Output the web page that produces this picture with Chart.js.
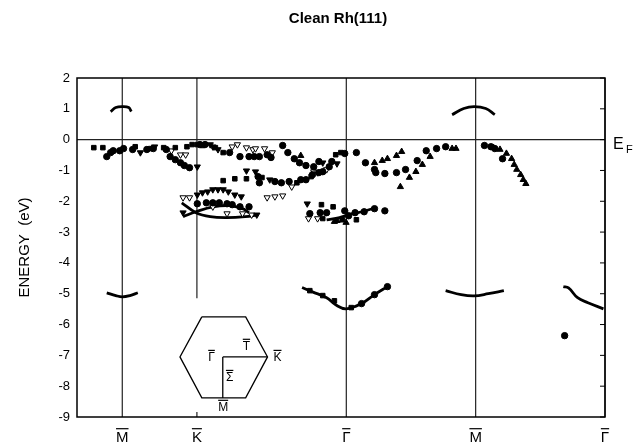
<!DOCTYPE html>
<html>
<head>
<meta charset="utf-8">
<title>Clean Rh(111)</title>
<script src="https://cdn.jsdelivr.net/npm/chart.js@4.4.1/dist/chart.umd.min.js"></script>
<style>
  html, body { margin: 0; padding: 0; background: #fff; }
  #wrap { width: 641px; height: 446px; }
</style>
</head>
<body>
<div id="wrap"><canvas id="chart" width="641" height="446"></canvas></div>
<script>
// k along the path, in units of |Gamma-M| (M = 0 on the left)
const symPoints = [
  { label: "M", k: 0 },
  { label: "K", k: 0.577 },
  { label: "Γ", k: 1.732 },
  { label: "M", k: 2.732 },
  { label: "Γ", k: 3.732 }
];
const energyTicks = [2, 1, 0, -1, -2, -3, -4, -5, -6, -7, -8, -9];

// measured points [k, E(eV)]
const squares = [
  [-0.22, -0.26], [-0.15, -0.26], [0.10, -0.23], [0.22, -0.29], [0.32, -0.26], [0.41, -0.26],
  [0.50, -0.23], [0.54, -0.16], [0.58, -0.16], [0.62, -0.19], [0.72, -0.26], [0.78, -0.42],
  [0.78, -1.33], [0.87, -1.27], [0.96, -1.27], [1.08, -1.23], [1.35, -1.40], [1.46, -1.20],
  [1.65, -0.49], [1.69, -0.42],
  [1.54, -2.11], [1.63, -2.18], [1.55, -2.56], [1.70, -2.60], [1.81, -2.60],
  [1.45, -4.90], [1.55, -5.06], [1.64, -5.23], [1.77, -5.45]
];
const circles = [
  [-0.12, -0.55], [-0.09, -0.42], [-0.07, -0.36], [-0.02, -0.36], [0.01, -0.29], [0.08, -0.32],
  [0.19, -0.32], [0.24, -0.29], [0.34, -0.32], [0.37, -0.55], [0.41, -0.65], [0.45, -0.75],
  [0.48, -0.84], [0.52, -0.91], [0.60, -0.16], [0.64, -0.16], [0.83, -0.42], [0.91, -0.55],
  [0.98, -0.55], [1.02, -0.55], [1.06, -0.55], [1.12, -0.49], [1.15, -0.58], [1.24, -0.19],
  [1.28, -0.42], [1.33, -0.62], [1.37, -0.75], [1.42, -0.84], [1.48, -0.88], [1.52, -0.71],
  [1.62, -0.71], [1.72, -0.45], [1.81, -0.42],
  [1.05, -1.20], [1.06, -1.40], [1.18, -1.36], [1.23, -1.40], [1.29, -1.36], [1.38, -1.30],
  [1.42, -1.30], [1.47, -1.14], [1.52, -1.07], [1.55, -1.04], [1.60, -0.88],
  [0.58, -2.08], [0.65, -2.05], [0.70, -2.05], [0.75, -2.05], [0.81, -2.08], [0.85, -2.11],
  [0.91, -2.18], [0.98, -2.18],
  [1.45, -2.40], [1.53, -2.37], [1.58, -2.37], [1.72, -2.31], [1.75, -2.47], [1.80, -2.37],
  [1.87, -2.34], [1.95, -2.24], [2.03, -2.31],
  [1.88, -0.75], [1.95, -0.97], [1.96, -1.07], [2.03, -1.10], [2.12, -1.07], [2.19, -0.97],
  [2.28, -0.68], [2.35, -0.36], [2.43, -0.29], [2.50, -0.23],
  [2.80, -0.19], [2.85, -0.23], [2.88, -0.29], [2.94, -0.62],
  [1.85, -5.32], [1.95, -5.03], [2.05, -4.77],
  [3.42, -6.36]
];
const downTriangles = [
  [0.14, -0.42], [0.25, -0.23], [0.58, -0.88], [0.68, -0.16], [0.70, -0.23], [0.74, -0.32],
  [0.96, -1.01], [1.03, -1.04], [1.14, -1.30], [1.55, -0.75], [1.66, -0.78], [1.43, -2.08],
  [0.58, -1.79], [0.62, -1.72], [0.66, -1.69], [0.70, -1.62], [0.74, -1.62], [0.78, -1.62],
  [0.82, -1.69], [0.87, -1.79], [0.92, -1.85],
  [0.47, -2.37], [1.04, -2.44]
];
const openTriangles = [
  [0.38, -0.36], [0.45, -0.49], [0.49, -0.49], [0.85, -0.23], [0.89, -0.16], [0.96, -0.26],
  [1.01, -0.32], [1.03, -0.29], [1.10, -0.29], [1.16, -0.42],
  [1.48, -1.04], [1.51, -1.07], [1.58, -0.97], [1.31, -1.53],
  [1.12, -1.88], [1.18, -1.85], [1.24, -1.82],
  [0.47, -1.88], [0.52, -1.88], [0.70, -2.18], [0.81, -2.40], [0.93, -2.40], [1.00, -2.44],
  [1.44, -2.56], [1.51, -2.56]
];
const upTriangles = [
  [1.38, -0.52], [1.64, -2.66], [1.66, -2.63], [1.73, -2.69],
  [1.95, -0.75], [2.01, -0.68], [2.05, -0.62], [2.12, -0.52], [2.16, -0.39],
  [2.15, -1.53], [2.22, -1.23], [2.27, -1.04], [2.32, -0.81], [2.38, -0.55], [2.55, -0.29], [2.58, -0.29],
  [2.87, -0.26], [2.92, -0.32], [2.97, -0.45], [3.01, -0.62], [3.03, -0.81], [3.05, -0.97],
  [3.08, -1.14], [3.10, -1.30], [3.12, -1.43]
];

// calculated bands (solid curves)
const bands = [
  [[-0.09, 0.91], [-0.05, 1.04], [0, 1.07], [0.05, 1.04], [0.07, 0.91]],
  [[2.55, 0.81], [2.64, 1.01], [2.72, 1.07], [2.81, 1.01], [2.88, 0.81]],
  [[-0.12, -4.97], [-0.05, -5.06], [0, -5.10], [0.06, -5.06], [0.12, -4.97]],
  [[2.50, -4.90], [2.62, -5.03], [2.72, -5.07], [2.83, -5.00], [2.95, -4.90]],
  [[1.39, -4.80], [1.47, -4.94], [1.58, -5.13], [1.65, -5.36], [1.73, -5.49], [1.85, -5.32], [1.95, -5.03], [2.05, -4.77]],
  [[3.41, -4.77], [3.45, -4.81], [3.52, -5.13], [3.60, -5.29], [3.72, -5.49]],
  [[0.46, -2.05], [0.57, -2.37], [0.68, -2.50], [0.81, -2.53], [0.95, -2.50], [1.05, -2.44]],
  [[0.47, -2.50], [0.57, -2.34], [0.70, -2.18], [0.83, -2.14], [0.93, -2.24], [0.98, -2.37]],
  [[1.58, -2.60], [1.68, -2.53], [1.75, -2.44], [1.85, -2.34], [1.96, -2.21]]
];

// surface Brillouin zone inset
const bzHexagon = [[0.615, -5.75], [0.954, -5.75], [1.123, -7.05], [0.954, -8.38], [0.615, -8.38], [0.446, -7.05], [0.615, -5.75]];
const bzPaths = [[[0.777, -7.05], [1.123, -7.05]], [[0.777, -7.05], [0.777, -8.38]]];
const bzLabels = [
  { text: "Γ", k: 0.69, e: -7.08 },
  { text: "T", k: 0.96, e: -6.72 },
  { text: "K", k: 1.20, e: -7.08 },
  { text: "Σ", k: 0.83, e: -7.73 },
  { text: "M", k: 0.78, e: -8.70 }
];

const FONT = "'Liberation Sans', Arial, Helvetica, sans-serif";
Chart.defaults.font.family = FONT;
Chart.defaults.color = "#000";

const toXY = arr => arr.map(p => ({ x: p[0], y: p[1] }));

function pointSet(data, style, opts) {
  return Object.assign({
    data: toXY(data),
    showLine: false,
    pointStyle: style,
    pointRadius: 3,
    pointBackgroundColor: "#000",
    pointBorderColor: "#000",
    pointBorderWidth: 1
  }, opts || {});
}

function lineSet(data, width, tension) {
  return {
    data: toXY(data),
    showLine: true,
    borderColor: "#000",
    borderWidth: width,
    pointRadius: 0,
    tension: tension,
    fill: false
  };
}

const datasets = [
  pointSet(squares, "rect", { pointRadius: 3.2 }),
  pointSet(circles, "circle", { pointRadius: 3.2 }),
  pointSet(downTriangles, "triangle", { rotation: 180, pointRadius: 3.6 }),
  pointSet(openTriangles, "triangle", { rotation: 180, pointRadius: 3.6, pointBackgroundColor: "#fff" }),
  pointSet(upTriangles, "triangle", { pointRadius: 3.6 })
];
bands.forEach(b => datasets.push(lineSet(b, 2.8, 0.4)));
datasets.push(lineSet(bzHexagon, 1.3, 0));
bzPaths.forEach(p => datasets.push(lineSet(p, 1.3, 0)));

function barLabel(ctx, text, x, y, size) {
  ctx.font = size + "px " + FONT;
  ctx.textAlign = "center";
  ctx.textBaseline = "middle";
  ctx.fillText(text, x, y);
  const w = ctx.measureText(text).width;
  ctx.lineWidth = 1.2;
  ctx.beginPath();
  ctx.moveTo(x - w / 2, y - size * 0.62);
  ctx.lineTo(x + w / 2, y - size * 0.62);
  ctx.stroke();
}

const decor = {
  id: "decor",
  beforeDatasetsDraw(chart) {
    const { ctx, chartArea: a, scales: { x, y } } = chart;
    ctx.save();
    ctx.strokeStyle = "#222";
    ctx.lineWidth = 1.2;
    // Fermi level
    const y0 = y.getPixelForValue(0);
    ctx.beginPath();
    ctx.moveTo(a.left, y0);
    ctx.lineTo(a.right, y0);
    ctx.stroke();
    // symmetry point verticals
    symPoints.forEach((s, i) => {
      const px = x.getPixelForValue(s.k);
      ctx.beginPath();
      if (i === 1) {
        ctx.moveTo(px, a.top);
        ctx.lineTo(px, y.getPixelForValue(-5.15));
        ctx.moveTo(px, a.bottom);
        ctx.lineTo(px, a.bottom - 5);
      } else {
        ctx.moveTo(px, a.top);
        ctx.lineTo(px, a.bottom);
      }
      ctx.stroke();
    });
    ctx.restore();
  },
  afterDraw(chart) {
    const { ctx, chartArea: a, scales: { x, y } } = chart;
    ctx.save();
    ctx.strokeStyle = "#000";
    ctx.fillStyle = "#000";
    ctx.lineWidth = 1.5;
    ctx.strokeRect(a.left, a.top, a.right - a.left, a.bottom - a.top);
    // inward ticks on right side
    ctx.lineWidth = 1;
    energyTicks.forEach(v => {
      const py = y.getPixelForValue(v);
      ctx.beginPath();
      ctx.moveTo(a.right, py);
      ctx.lineTo(a.right - 5, py);
      ctx.stroke();
    });
    // title
    ctx.font = "bold 15px " + FONT;
    ctx.textAlign = "center";
    ctx.textBaseline = "middle";
    ctx.fillText("Clean Rh(111)", 338, 19);
    // y axis title
    ctx.save();
    ctx.translate(25, (a.top + a.bottom) / 2);
    ctx.rotate(-Math.PI / 2);
    ctx.font = "15px " + FONT;
    ctx.fillText("ENERGY  (eV)", 0, 0);
    ctx.restore();
    // symmetry labels
    symPoints.forEach(s => barLabel(ctx, s.label, x.getPixelForValue(s.k), 438, 15));
    // inset labels
    bzLabels.forEach(l => barLabel(ctx, l.text, x.getPixelForValue(l.k), y.getPixelForValue(l.e), 12));
    // E_F
    ctx.font = "16px " + FONT;
    ctx.textAlign = "left";
    ctx.fillText("E", 613, 145);
    ctx.font = "11px " + FONT;
    ctx.fillText("F", 626, 150);
    ctx.restore();
  }
};

new Chart(document.getElementById("chart"), {
  type: "scatter",
  data: { datasets },
  options: {
    responsive: false,
    animation: false,
    layout: { padding: { top: 78, right: 36, bottom: 0, left: 0 } },
    plugins: { legend: { display: false }, tooltip: { enabled: false }, title: { display: false } },
    scales: {
      x: {
        type: "linear",
        min: -0.35,
        max: 3.732,
        grid: { display: false, drawTicks: false },
        border: { display: false },
        ticks: { display: false },
        afterFit: s => { s.height = 29; }
      },
      y: {
        min: -9,
        max: 2,
        grid: { display: false, drawTicks: false },
        border: { display: false },
        ticks: { stepSize: 1, padding: 7, font: { size: 13 }, color: "#000" },
        afterFit: s => { s.width = 77; }
      }
    }
  },
  plugins: [decor]
});
</script>
</body>
</html>
